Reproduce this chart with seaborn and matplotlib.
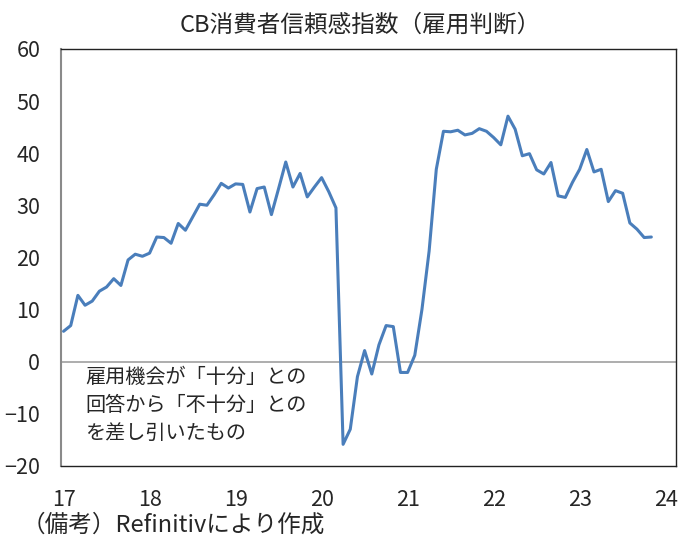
import pandas as pd
import matplotlib
matplotlib.use('Agg')
import matplotlib.pyplot as plt
import seaborn as sns

sns.set_style("white")
plt.rcParams['font.family'] = ['Noto Sans CJK JP', 'DejaVu Sans']
plt.rcParams['axes.unicode_minus'] = True

title = "CB消費者信頼感指数（雇用判断）"
note = "雇用機会が「十分」との\n回答から「不十分」との\nを差し引いたもの"
source = "（備考）Refinitivにより作成"

# monthly values, Jan 2017 - Nov 2023
labor_diff = [
    5.8, 6.9, 12.7, 10.8, 11.6, 13.5, 14.3, 15.9, 14.6, 19.5, 20.6, 20.2,
    20.8, 23.9, 23.8, 22.7, 26.5, 25.2, 27.7, 30.2, 30.0, 32.0, 34.2, 33.3,
    34.1, 34.0, 28.7, 33.2, 33.5, 28.2, 33.2, 38.3, 33.5, 36.1, 31.6, 33.5,
    35.3, 32.6, 29.5, -15.9, -13.0, -2.9, 2.1, -2.4, 3.2, 6.9, 6.7, -2.1,
    -2.1, 1.2, 10.0, 21.2, 36.9, 44.2, 44.1, 44.4, 43.5, 43.8, 44.7, 44.2,
    43.0, 41.6, 47.1, 44.6, 39.5, 39.9, 36.8, 36.0, 38.2, 31.8, 31.5, 34.4,
    36.9, 40.7, 36.4, 36.9, 30.7, 32.8, 32.3, 26.6, 25.4, 23.8, 23.9,
]
year_ticks = [17, 18, 19, 20, 21, 22, 23, 24]
y_ticks = [-20, -10, 0, 10, 20, 30, 40, 50, 60]

months = pd.date_range("2017-01-01", periods=len(labor_diff), freq="MS")
df = pd.DataFrame({
    'x': months.year - 2000 + (months.month - 1) / 12,
    'value': labor_diff,
})

fig = plt.figure(figsize=(7, 5.46), dpi=100)
ax = fig.add_axes([0.0871, 0.1471, 0.8786, 0.7632])

ax.axhline(0, color='#a0a0a0', linewidth=1.2, zorder=1)
sns.lineplot(data=df, x='x', y='value', ax=ax, color='#4a7ebb', linewidth=2.2, zorder=2)

ax.set_xlim(16.97, 24.12)
ax.set_ylim(-20, 60)
ax.set_xticks(year_ticks)
ax.set_xticklabels([str(t) for t in year_ticks])
ax.set_yticks(y_ticks)
ax.set_xlabel('')
ax.set_ylabel('')
ax.tick_params(axis='y', length=0, pad=15, labelsize=15.5)
ax.tick_params(axis='x', length=0, pad=17, labelsize=15.5)

for side in ['top', 'right', 'bottom']:
    ax.spines[side].set_color('#222222')
    ax.spines[side].set_linewidth(1.0)
ax.spines['left'].set_color('#8a8a8a')
ax.spines['left'].set_linewidth(1.5)

fig.text(360 / 700, 1 - 25 / 546, title, ha='center', va='center', fontsize=17)
ax.text(0.04, 0.237, note, transform=ax.transAxes, ha='left', va='top',
        fontsize=14.5, linespacing=1.45)
fig.text(22 / 700, 1 - 525 / 546, source, ha='left', va='center', fontsize=17)

fig.savefig('out.png', dpi=100)
